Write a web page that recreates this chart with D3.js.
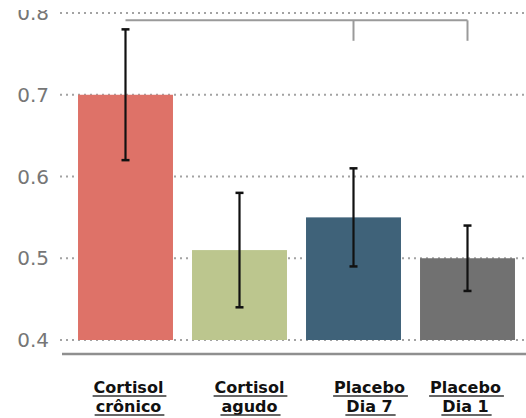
<!DOCTYPE html>
<html>
<head>
<meta charset="utf-8">
<script src="https://cdn.jsdelivr.net/npm/d3@7"></script>
<style>
  html, body { margin: 0; padding: 0; background: #fff; }
  svg { display: block; }
</style>
</head>
<body>
<div id="chart"></div>
<script>
// ---- data ----
const categories = ["Cortisol crônico", "Cortisol agudo", "Placebo Dia 7", "Placebo Dia 1"];
const labelLines = [["Cortisol", "crônico"], ["Cortisol", "agudo"], ["Placebo", "Dia 7"], ["Placebo", "Dia 1"]];
const means = [0.70, 0.51, 0.55, 0.50];
const errLow = [0.62, 0.44, 0.49, 0.46];
const errHigh = [0.78, 0.58, 0.61, 0.54];
const yTicks = [0.4, 0.5, 0.6, 0.7, 0.8];
const barColors = ["#de7268", "#bcc68e", "#3f6279", "#717171"];
// significance bracket: from bar 0 to bars 2 and 3
const bracketFrom = 0;
const bracketTo = [2, 3];
const bracketTop = 0.791;
const bracketTickEnd = 0.766;

// ---- layout ----
const W = 526, H = 418;
const svg = d3.select("#chart").append("svg").attr("width", W).attr("height", H);

const x = d3.scaleBand().domain(categories).range([68.5, 524.5]).paddingInner(0.167).paddingOuter(0.0835);
const y = d3.scaleLinear().domain([0.4, 0.8]).range([340, 13]);
const cx = i => x(categories[i]) + x.bandwidth() / 2;

// gridlines (dotted)
svg.append("g").selectAll("line").data(yTicks).join("line")
  .attr("x1", 60).attr("x2", W)
  .attr("y1", d => y(d)).attr("y2", d => y(d))
  .attr("stroke", "#a3a3a3").attr("stroke-width", 2)
  .attr("stroke-dasharray", "2,4");

// y labels
svg.append("g").selectAll("text").data(yTicks).join("text")
  .attr("x", 49).attr("y", d => y(d) + 7)
  .attr("text-anchor", "end")
  .attr("font-family", "DejaVu Sans, sans-serif")
  .attr("font-size", 20)
  .attr("fill", "#767676")
  .text(d => d.toFixed(1));

// top crop (reference is cut above)
svg.append("rect").attr("x", 0).attr("y", 0).attr("width", 58).attr("height", 10).attr("fill", "#fff");

// bars
svg.append("g").selectAll("rect").data(means).join("rect")
  .attr("x", (d, i) => x(categories[i]))
  .attr("width", x.bandwidth())
  .attr("y", d => y(d))
  .attr("height", d => y(0.4) - y(d))
  .attr("fill", (d, i) => barColors[i]);

// error bars
const eg = svg.append("g");
eg.selectAll("line.v").data(means).join("line").attr("class", "v")
  .attr("x1", (d, i) => cx(i)).attr("x2", (d, i) => cx(i))
  .attr("y1", (d, i) => y(errHigh[i])).attr("y2", (d, i) => y(errLow[i]))
  .attr("stroke", "#111").attr("stroke-width", 2.2);
eg.selectAll("line.t").data(means).join("line").attr("class", "t")
  .attr("x1", (d, i) => cx(i) - 4).attr("x2", (d, i) => cx(i) + 4)
  .attr("y1", (d, i) => y(errHigh[i])).attr("y2", (d, i) => y(errHigh[i]))
  .attr("stroke", "#111").attr("stroke-width", 2.5);
eg.selectAll("line.b").data(means).join("line").attr("class", "b")
  .attr("x1", (d, i) => cx(i) - 4).attr("x2", (d, i) => cx(i) + 4)
  .attr("y1", (d, i) => y(errLow[i])).attr("y2", (d, i) => y(errLow[i]))
  .attr("stroke", "#111").attr("stroke-width", 2.5);

// bracket
const bg = svg.append("g").attr("stroke", "#9a9a9a").attr("stroke-width", 2).attr("fill", "none");
bg.append("line")
  .attr("x1", cx(bracketFrom)).attr("x2", cx(d3.max(bracketTo)))
  .attr("y1", y(bracketTop)).attr("y2", y(bracketTop));
bg.selectAll("line.tick").data(bracketTo).join("line").attr("class", "tick")
  .attr("x1", d => cx(d)).attr("x2", d => cx(d))
  .attr("y1", y(bracketTop)).attr("y2", y(bracketTickEnd));

// x axis baseline
svg.append("line")
  .attr("x1", 62).attr("x2", W)
  .attr("y1", 354).attr("y2", 354)
  .attr("stroke", "#8f8f8f").attr("stroke-width", 2.5);

// category labels (bold, underlined)
const labelShift = [3, 10, 16, -2];
const lg = svg.append("g");
labelLines.forEach((lines, i) => {
  lines.forEach((t, j) => {
    const txt = lg.append("text")
      .attr("x", cx(i) + labelShift[i])
      .attr("y", 393 + j * 19)
      .attr("text-anchor", "middle")
      .attr("font-family", "DejaVu Sans, sans-serif")
      .attr("font-weight", "bold")
      .attr("font-size", 16)
      .attr("fill", "#111")
      .text(t);
    const bb = txt.node().getBBox();
    lg.append("line")
      .attr("x1", bb.x - 1).attr("x2", bb.x + bb.width + 3)
      .attr("y1", 393 + j * 19 + 3).attr("y2", 393 + j * 19 + 3)
      .attr("stroke", "#333").attr("stroke-width", 1.6);
  });
});
</script>
</body>
</html>
